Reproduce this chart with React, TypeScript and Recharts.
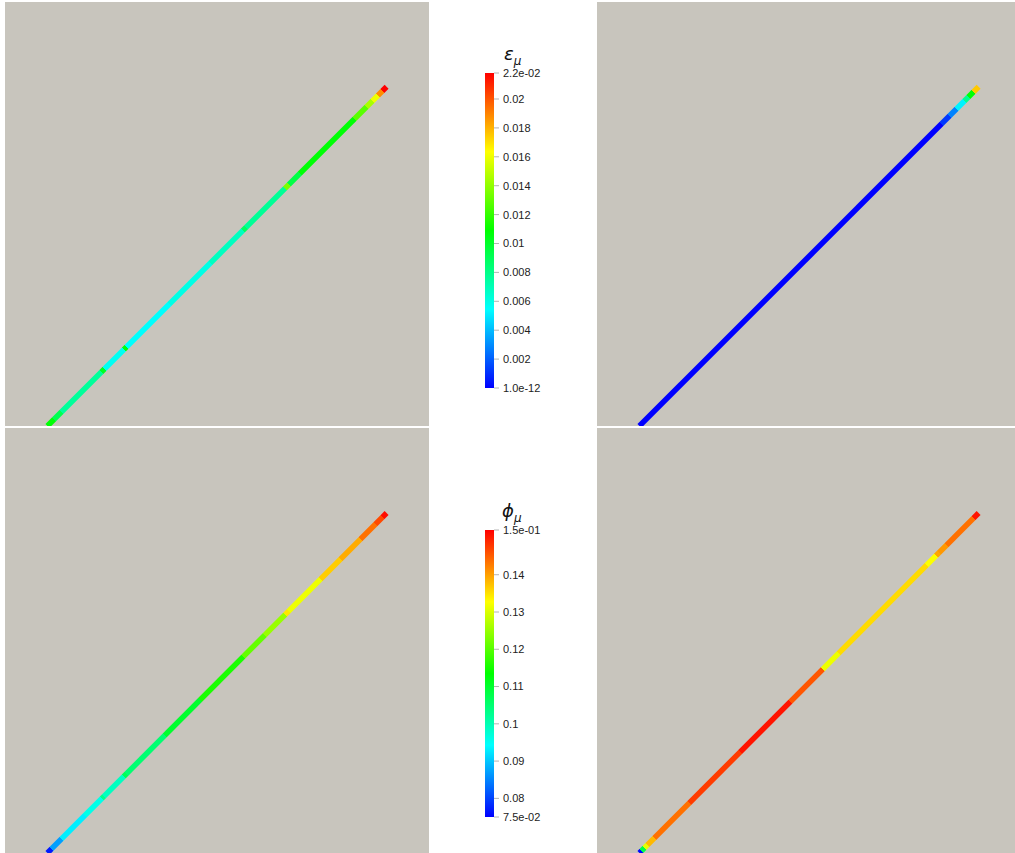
import React from "react";
import { LineChart, Line, XAxis, YAxis, BarChart, Bar } from "recharts";

// ---------- data ----------
// scene geometry of the line (normalised panel coordinates)
const sceneX = [0.1, 0.9];
const sceneY = [0.0, 0.8];

// colour-scale ranges
const epsRange = [1e-12, 0.0218];
const phiRange = [0.075, 0.152];

// colour-bar ticks and labels
const epsTicks = [1e-12, 0.002, 0.004, 0.006, 0.008, 0.01, 0.012, 0.014, 0.016, 0.018, 0.02, 0.0218];
const epsTickLabels = ["1.0e-12", "0.002", "0.004", "0.006", "0.008", "0.01", "0.012", "0.014", "0.016", "0.018", "0.02", "2.2e-02"];
const phiTicks = [0.075, 0.08, 0.09, 0.1, 0.11, 0.12, 0.13, 0.14, 0.152];
const phiTickLabels = ["7.5e-02", "0.08", "0.09", "0.1", "0.11", "0.12", "0.13", "0.14", "1.5e-01"];

// top-left: epsilon, state A (segment end position along line, value)
const epsAEnds = [0.02, 0.041, 0.16, 0.168, 0.225, 0.233, 0.36, 0.48, 0.577, 0.586, 0.7, 0.712, 0.745, 0.905, 0.94, 0.958, 0.975, 0.988, 1];
const epsAVals = [0.0108, 0.0092, 0.0076, 0.0102, 0.0057, 0.0106, 0.0055, 0.006, 0.0068, 0.0088, 0.0077, 0.0135, 0.0094, 0.0108, 0.0128, 0.0145, 0.016, 0.0188, 0.0218];

// top-right: epsilon, state B
const epsBEnds = [0.89, 0.914, 0.935, 0.958, 0.97, 0.985, 1];
const epsBVals = [1e-12, 0.0012, 0.0028, 0.0052, 0.0078, 0.0108, 0.0175];

// bottom-left: phi, state A
const phiAEnds = [0.012, 0.041, 0.11, 0.16, 0.166, 0.225, 0.233, 0.346, 0.45, 0.577, 0.64, 0.701, 0.712, 0.805, 0.864, 0.923, 0.967, 0.988, 1];
const phiAVals = [0.077, 0.087, 0.093, 0.096, 0.103, 0.099, 0.107, 0.105, 0.11, 0.1155, 0.121, 0.125, 0.1345, 0.1315, 0.1365, 0.139, 0.1435, 0.1465, 0.151];

// bottom-right: phi, state B
const phiBEnds = [0.006, 0.015, 0.024, 0.045, 0.148, 0.297, 0.445, 0.54, 0.588, 0.846, 0.875, 0.884, 0.905, 0.985, 1];
const phiBVals = [0.0755, 0.108, 0.131, 0.138, 0.1435, 0.1475, 0.1505, 0.1455, 0.1315, 0.1355, 0.1325, 0.1395, 0.1405, 0.1435, 0.1505];

// ---------- helpers ----------
const BG = "#c8c5bd";

function hsvColor(f: number): string {
  const t = Math.max(0, Math.min(1, f));
  const h = 240 * (1 - t);
  const x = 1 - Math.abs(((h / 60) % 2) - 1);
  let r = 0, g = 0, b = 0;
  if (h < 60) { r = 1; g = x; }
  else if (h < 120) { r = x; g = 1; }
  else if (h < 180) { g = 1; b = x; }
  else { g = x; b = 1; }
  const c = (v: number) => Math.round(v * 255);
  return `rgb(${c(r)},${c(g)},${c(b)})`;
}

type PanelProps = {
  id: string;
  left: number;
  top: number;
  width: number;
  height: number;
  ends: number[];
  vals: number[];
  range: number[];
};

function Panel({ id, left, top, width, height, ends, vals, range }: PanelProps) {
  const data = sceneX.map((x, i) => ({ x, y: sceneY[i] }));
  const stops: { off: number; col: string }[] = [];
  let start = 0;
  ends.forEach((e, i) => {
    const col = hsvColor((vals[i] - range[0]) / (range[1] - range[0]));
    stops.push({ off: start, col });
    stops.push({ off: e, col });
    start = e;
  });
  return (
    <div style={{ position: "absolute", left, top, width, height, background: BG, overflow: "hidden" }}>
      <LineChart width={width} height={height} data={data} margin={{ top: 0, right: 0, bottom: 0, left: 0 }}>
        <defs>
          <linearGradient id={id} x1="0" y1="1" x2="1" y2="0">
            {stops.map((s, i) => (
              <stop key={i} offset={s.off} stopColor={s.col} />
            ))}
          </linearGradient>
        </defs>
        <XAxis dataKey="x" type="number" domain={[0, 1]} hide allowDataOverflow />
        <YAxis type="number" domain={[0, 1]} hide allowDataOverflow />
        <Line
          dataKey="y"
          type="linear"
          stroke={`url(#${id})`}
          strokeWidth={5.5}
          strokeLinecap="butt"
          dot={false}
          activeDot={false}
          isAnimationActive={false}
        />
      </LineChart>
    </div>
  );
}

type BarProps = {
  id: string;
  left: number;
  top: number;
  plotHeight: number;
  range: number[];
  ticks: number[];
  labels: string[];
};

function ColorBar({ id, left, top, plotHeight, range, ticks, labels }: BarProps) {
  const data = [{ name: "c", v: [range[0], range[1]] }];
  const fmt = (v: number) => {
    const i = ticks.findIndex((t) => Math.abs(t - v) < 1e-9);
    return i >= 0 ? labels[i] : String(v);
  };
  return (
    <div style={{ position: "absolute", left, top }}>
      <BarChart
        width={90}
        height={plotHeight + 20}
        data={data}
        margin={{ top: 10, bottom: 10, left: 10, right: 0 }}
        barCategoryGap={0}
      >
        <defs>
          <linearGradient id={id} x1="0" y1="1" x2="0" y2="0">
            <stop offset={0} stopColor={hsvColor(0)} />
            <stop offset={0.25} stopColor={hsvColor(0.25)} />
            <stop offset={0.5} stopColor={hsvColor(0.5)} />
            <stop offset={0.75} stopColor={hsvColor(0.75)} />
            <stop offset={1} stopColor={hsvColor(1)} />
          </linearGradient>
        </defs>
        <XAxis dataKey="name" hide />
        <YAxis
          orientation="right"
          type="number"
          domain={[range[0], range[1]]}
          allowDataOverflow
          ticks={ticks}
          interval={0}
          width={70}
          axisLine={false}
          tickLine={{ stroke: "#b4b4b4" }}
          tickSize={5}
          tickMargin={4}
          tickFormatter={fmt}
          tick={{ fill: "#222", fontSize: 11, fontFamily: "Liberation Sans, Arial, sans-serif" }}
        />
        <Bar dataKey="v" fill={`url(#${id})`} barSize={10} isAnimationActive={false} />
      </BarChart>
    </div>
  );
}

const titleStyle: React.CSSProperties = {
  position: "absolute",
  fontFamily: "DejaVu Sans, sans-serif",
  fontStyle: "italic",
  fontSize: 18,
  color: "#111",
  lineHeight: 1,
  whiteSpace: "nowrap",
};

export default function App() {
  return (
    <div
      style={{
        position: "absolute",
        left: 0,
        top: 0,
        width: 1015,
        height: 853,
        background: "#ffffff",
        overflow: "hidden",
      }}
    >
      <Panel id="gTL" left={5} top={2} width={424} height={424} ends={epsAEnds} vals={epsAVals} range={epsRange} />
      <Panel id="gTR" left={597} top={2} width={424} height={424} ends={epsBEnds} vals={epsBVals} range={epsRange} />
      <Panel id="gBL" left={5} top={428} width={424} height={425} ends={phiAEnds} vals={phiAVals} range={phiRange} />
      <Panel id="gBR" left={597} top={428} width={424} height={425} ends={phiBEnds} vals={phiBVals} range={phiRange} />

      <div style={{ ...titleStyle, left: 504, top: 45 }}>
        ε<sub style={{ fontSize: 12 }}>μ</sub>
      </div>
      <ColorBar id="cbE" left={474} top={63} plotHeight={315} range={epsRange} ticks={epsTicks} labels={epsTickLabels} />

      <div style={{ ...titleStyle, left: 502, top: 502 }}>
        ϕ<sub style={{ fontSize: 12 }}>μ</sub>
      </div>
      <ColorBar id="cbP" left={474} top={520} plotHeight={287} range={phiRange} ticks={phiTicks} labels={phiTickLabels} />
    </div>
  );
}
